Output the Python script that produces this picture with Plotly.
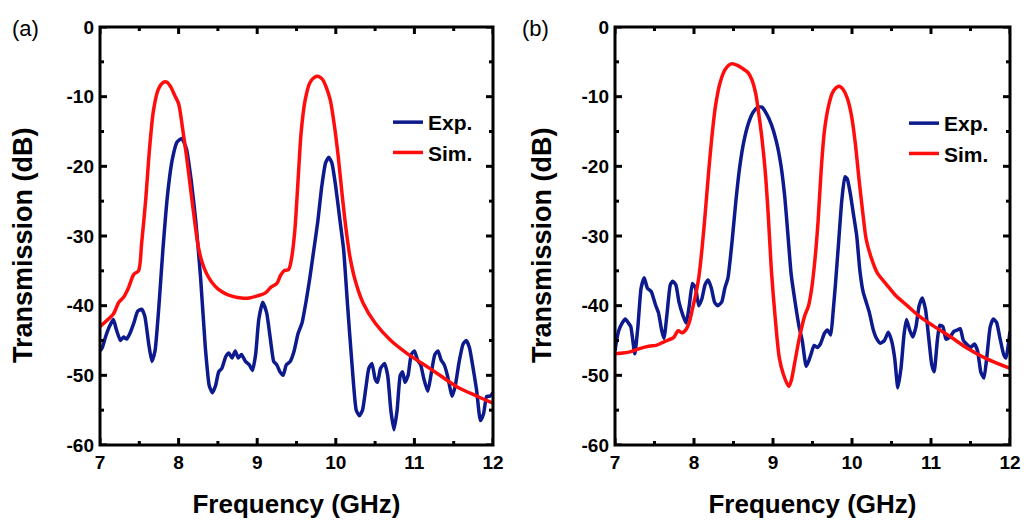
import plotly.graph_objects as go

# ---------------- data ----------------
a_exp_f = [7.00,7.03,7.07,7.12,7.17,7.21,7.26,7.30,7.34,7.38,7.43,7.48,7.53,7.57,7.62,7.66,7.70,7.75,7.80,7.86,
           7.92,7.98,8.04,8.10,8.16,8.22,8.28,8.34,8.39,8.43,8.47,8.51,8.55,8.60,8.64,8.68,8.72,8.76,8.80,8.85,
           8.90,8.94,8.98,9.02,9.07,9.12,9.17,9.21,9.25,9.29,9.33,9.37,9.42,9.47,9.52,9.57,9.62,9.67,9.72,9.77,
           9.82,9.87,9.91,9.95,10.00,10.05,10.10,10.15,10.21,10.26,10.30,10.34,10.38,10.42,10.46,10.50,10.53,10.57,
           10.62,10.66,10.70,10.74,10.78,10.82,10.85,10.88,10.92,10.96,11.00,11.04,11.08,11.12,11.17,11.21,11.26,
           11.30,11.34,11.38,11.42,11.48,11.52,11.57,11.62,11.66,11.70,11.74,11.79,11.84,11.88,11.92,11.96,12.00]
a_exp_db = [-46.5,-46.0,-44.5,-43.0,-42.0,-43.5,-45.0,-44.5,-44.8,-44.0,-42.5,-40.8,-40.5,-41.5,-45.5,-48.0,-46.5,-40.0,-32.0,-24.0,
            -19.0,-16.5,-16.0,-17.5,-22.0,-28.0,-36.0,-46.0,-51.5,-52.5,-51.5,-49.5,-49.0,-47.3,-46.8,-47.5,-46.5,-47.5,-47.0,-48.0,
            -48.5,-49.3,-47.0,-42.0,-39.5,-41.0,-45.0,-48.0,-48.5,-49.5,-50.0,-48.5,-48.0,-46.5,-44.0,-42.5,-39.5,-36.0,-32.0,-28.0,
            -23.0,-19.5,-18.7,-19.5,-23.0,-27.5,-32.0,-40.0,-49.0,-55.0,-55.8,-55.0,-52.0,-49.0,-48.3,-50.5,-51.0,-49.0,
            -48.3,-50.0,-55.0,-57.8,-55.0,-50.0,-49.5,-51.0,-50.0,-47.0,-46.5,-47.8,-48.5,-50.5,-52.3,-50.0,-47.0,
            -46.5,-47.8,-48.5,-50.0,-53.0,-51.5,-48.0,-45.5,-45.0,-46.0,-48.5,-52.0,-56.5,-55.5,-53.0,-53.0,-52.5]

a_sim_f = [7.00,7.08,7.17,7.24,7.30,7.36,7.43,7.49,7.53,7.58,7.63,7.68,7.74,7.80,7.85,7.90,7.95,8.00,8.05,8.10,
           8.15,8.20,8.25,8.30,8.36,8.42,8.50,8.60,8.70,8.80,8.90,9.00,9.10,9.18,9.25,9.30,9.34,9.40,9.44,9.48,
           9.52,9.56,9.61,9.67,9.73,9.78,9.83,9.88,9.93,9.98,10.03,10.08,10.13,10.18,10.25,10.35,10.50,10.70,10.90,
           11.10,11.30,11.55,11.80,12.00]
a_sim_db = [-43.0,-42.2,-41.2,-39.5,-38.8,-37.5,-35.5,-35.0,-31.0,-25.0,-17.5,-12.0,-9.0,-8.0,-7.9,-8.6,-9.8,-11.0,-14.5,-18.5,
            -23.0,-27.5,-31.5,-33.8,-35.5,-36.6,-37.6,-38.3,-38.7,-38.9,-38.9,-38.6,-38.2,-37.3,-36.8,-35.6,-35.0,-34.8,-33.0,-29.0,
            -22.0,-15.0,-10.5,-8.0,-7.2,-7.1,-7.5,-8.7,-10.5,-14.0,-18.5,-24.0,-29.0,-33.0,-36.5,-39.7,-42.5,-45.0,-46.8,
            -48.3,-49.8,-51.7,-53.0,-54.0]

b_exp_f = [7.00,7.02,7.05,7.09,7.13,7.17,7.20,7.25,7.29,7.33,7.37,7.41,7.46,7.51,7.55,7.59,7.62,7.66,7.70,7.73,
           7.77,7.81,7.86,7.90,7.94,7.98,8.02,8.06,8.10,8.14,8.18,8.22,8.26,8.30,8.35,8.39,8.43,8.48,8.53,8.58,
           8.63,8.69,8.75,8.81,8.86,8.92,8.98,9.04,9.10,9.15,9.19,9.23,9.28,9.33,9.37,9.42,9.45,9.48,9.52,9.56,
           9.60,9.65,9.69,9.73,9.76,9.79,9.83,9.87,9.91,9.94,9.98,10.02,10.06,10.10,10.14,10.18,10.22,10.27,10.31,
           10.36,10.41,10.46,10.50,10.54,10.58,10.62,10.66,10.69,10.73,10.77,10.81,10.85,10.89,10.93,10.97,11.01,
           11.04,11.08,11.11,11.15,11.19,11.24,11.29,11.33,11.37,11.41,11.45,11.50,11.55,11.59,11.63,11.67,11.71,
           11.75,11.79,11.83,11.87,11.92,11.95,11.98,12.00]
b_exp_db = [-46.5,-45.0,-43.5,-42.5,-41.9,-42.5,-43.0,-46.9,-43.0,-37.5,-36.0,-37.5,-38.0,-39.8,-41.0,-43.5,-44.7,-41.0,-37.0,-36.5,
            -37.0,-39.5,-41.4,-42.5,-40.0,-36.8,-37.5,-40.0,-39.0,-37.0,-36.3,-37.5,-39.5,-40.0,-39.5,-37.5,-36.0,-31.0,-25.0,-20.0,
            -16.5,-13.8,-12.2,-11.5,-11.5,-12.5,-14.0,-16.3,-19.8,-24.5,-30.0,-35.5,-39.5,-43.0,-45.0,-48.7,-48.0,-47.0,-45.7,-46.0,
            -45.5,-44.0,-43.5,-44.2,-41.0,-37.0,-31.0,-25.0,-21.5,-21.8,-24.0,-27.0,-30.0,-35.0,-38.0,-39.5,-41.0,-43.5,-44.7,
            -45.4,-45.0,-43.8,-45.0,-47.5,-51.8,-49.0,-44.0,-42.0,-43.5,-44.5,-43.0,-40.0,-38.9,-40.5,-44.5,-48.5,
            -49.5,-45.0,-42.8,-43.0,-44.8,-44.5,-43.7,-43.5,-43.3,-45.0,-45.5,-46.0,-45.5,-46.5,-49.5,-50.4,-47.0,
            -43.0,-41.9,-42.4,-44.5,-47.0,-47.5,-45.5,-43.7]

b_sim_f = [7.00,7.10,7.20,7.30,7.44,7.52,7.60,7.68,7.74,7.80,7.85,7.90,7.94,7.98,8.02,8.06,8.10,8.14,8.18,8.22,
           8.27,8.33,8.40,8.47,8.55,8.62,8.68,8.73,8.78,8.82,8.86,8.90,8.94,8.98,9.03,9.08,9.13,9.20,9.23,9.27,
           9.31,9.35,9.40,9.45,9.49,9.53,9.57,9.61,9.65,9.70,9.75,9.80,9.84,9.89,9.94,9.99,10.04,10.09,10.14,10.18,
           10.24,10.32,10.44,10.55,10.70,10.85,11.03,11.25,11.46,11.70,12.00]
b_sim_db = [-46.9,-46.8,-46.6,-46.2,-45.8,-45.7,-45.3,-44.9,-44.6,-43.6,-43.9,-43.4,-42.4,-40.5,-38.5,-36.0,-32.0,-27.0,-21.5,-16.5,
            -11.5,-8.0,-6.0,-5.3,-5.5,-6.0,-6.5,-7.5,-9.5,-12.5,-16.0,-20.5,-27.0,-35.0,-42.0,-47.5,-49.8,-51.6,-50.8,-48.5,
            -46.0,-43.8,-41.5,-40.0,-37.5,-33.5,-28.0,-20.5,-15.0,-11.5,-9.5,-8.7,-8.5,-9.0,-10.2,-12.5,-16.5,-22.0,-27.0,-30.5,
            -33.0,-35.3,-37.0,-38.5,-40.0,-41.5,-42.9,-44.5,-46.1,-47.6,-49.0]

x_tick_vals = [7, 8, 9, 10, 11, 12]
x_tick_text = ["7", "8", "9", "10", "11", "12"]
x_minor_vals = [7.5, 8.5, 9.5, 10.5, 11.5]
y_tick_vals = [-60, -50, -40, -30, -20, -10, 0]
y_tick_text = ["-60", "-50", "-40", "-30", "-20", "-10", "0"]
y_minor_vals = [-55, -45, -35, -25, -15, -5]
series_names = ["Exp.", "Sim."]
panel_labels = ["(a)", "(b)"]
x_title = "Frequency (GHz)"
y_title = "Transmission (dB)"

# ---------------- figure ----------------
BLUE = "#0c1a8e"
RED = "#ff0d0d"
BLACK = "#000000"
FONT = "Liberation Sans, Arial, sans-serif"

W, H = 1024, 520
ML, MR, MT, MB = 10, 10, 10, 10
PW, PH = W - ML - MR, H - MT - MB

def fx(px):
    return (px - ML) / PW

def fy(py):
    return 1 - (py - MT) / PH

fig = go.Figure()
fig.add_trace(go.Scatter(x=a_exp_f, y=a_exp_db, name=series_names[0], mode="lines",
                         line=dict(color=BLUE, width=3.5, shape="spline", smoothing=0.5),
                         xaxis="x", yaxis="y", legend="legend"))
fig.add_trace(go.Scatter(x=a_sim_f, y=a_sim_db, name=series_names[1], mode="lines",
                         line=dict(color=RED, width=3.5, shape="spline", smoothing=0.8),
                         xaxis="x", yaxis="y", legend="legend"))
fig.add_trace(go.Scatter(x=b_exp_f, y=b_exp_db, name=series_names[0], mode="lines",
                         line=dict(color=BLUE, width=3.5, shape="spline", smoothing=0.5),
                         xaxis="x2", yaxis="y2", legend="legend2"))
fig.add_trace(go.Scatter(x=b_sim_f, y=b_sim_db, name=series_names[1], mode="lines",
                         line=dict(color=RED, width=3.5, shape="spline", smoothing=0.8),
                         xaxis="x2", yaxis="y2", legend="legend2"))

tickfont = dict(family=FONT, size=19, color=BLACK, weight="bold")
titlefont_x = dict(family=FONT, size=26, color=BLACK, weight="bold")
titlefont_y = dict(family=FONT, size=27, color=BLACK, weight="bold")

def xax(domain, anchor):
    return dict(domain=domain, anchor=anchor, range=[7, 12], tickmode="array",
                tickvals=x_tick_vals, ticktext=x_tick_text, ticks="", ticklabelstandoff=4,
                showline=False, showgrid=False, zeroline=False, tickfont=tickfont,
                automargin=False, title=dict(text=x_title, font=titlefont_x, standoff=22))

def yax(domain, anchor):
    return dict(domain=domain, anchor=anchor, range=[-60, 0], tickmode="array",
                tickvals=y_tick_vals, ticktext=y_tick_text, ticks="", ticklabelstandoff=5,
                showline=False, showgrid=False, zeroline=False, tickfont=tickfont,
                automargin=False)

ydom = [fy(445), fy(27)]
xdom1 = [fx(100), fx(493)]
xdom2 = [fx(615), fx(1010)]

legfont = dict(family=FONT, size=21, color=BLACK, weight="bold")
fig.update_layout(
    width=W, height=H,
    margin=dict(l=ML, r=MR, t=MT, b=MB),
    paper_bgcolor="white", plot_bgcolor="white",
    xaxis=xax(xdom1, "y"),
    yaxis=yax(ydom, "x"),
    xaxis2=xax(xdom2, "y2"),
    yaxis2=yax(ydom, "x2"),
    legend=dict(x=fx(388), y=fy(102), xanchor="left", yanchor="top",
                bgcolor="rgba(0,0,0,0)", font=legfont, tracegroupgap=0, itemwidth=30),
    legend2=dict(x=fx(904), y=fy(103), xanchor="left", yanchor="top",
                 bgcolor="rgba(0,0,0,0)", font=legfont, tracegroupgap=0, itemwidth=30),
    showlegend=True,
)

# frame and inside ticks (major 7 px, minor 4 px) on all four sides of each panel
LINE = dict(color=BLACK, width=3)
for xa, ya in [("x", "y"), ("x2", "y2")]:
    fig.add_shape(type="rect", xref=xa + " domain", yref=ya + " domain",
                  x0=0, x1=1, y0=0, y1=1, line=LINE, layer="above")
    for vals, ln in [(x_tick_vals, 7), (x_minor_vals, 4)]:
        for v in vals:
            for anc, sgn in [(0, 1), (1, -1)]:
                fig.add_shape(type="line", xref=xa, yref=ya + " domain", x0=v, x1=v,
                              ysizemode="pixel", yanchor=anc, y0=0, y1=sgn * ln,
                              line=LINE, layer="above")
    for vals, ln in [(y_tick_vals, 7), (y_minor_vals, 4)]:
        for v in vals:
            for anc, sgn in [(0, 1), (1, -1)]:
                fig.add_shape(type="line", xref=xa + " domain", yref=ya, y0=v, y1=v,
                              xsizemode="pixel", xanchor=anc, x0=0, x1=sgn * ln,
                              line=LINE, layer="above")

# y-axis titles and panel labels
for xpx, txt in [(23, y_title), (542, y_title)]:
    fig.add_annotation(text=txt, x=fx(xpx), y=fy(245), xref="paper", yref="paper",
                       xanchor="center", yanchor="middle", textangle=-90, showarrow=False,
                       font=titlefont_y)
for xpx, txt in [(10, panel_labels[0]), (520, panel_labels[1])]:
    fig.add_annotation(text=txt, x=fx(xpx), y=fy(28), xref="paper", yref="paper",
                       xanchor="left", yanchor="middle", showarrow=False,
                       font=dict(family=FONT, size=22, color=BLACK))

fig.write_html("out.html", config={"displayModeBar": False},
               post_script="document.body.style.margin='0px';")
